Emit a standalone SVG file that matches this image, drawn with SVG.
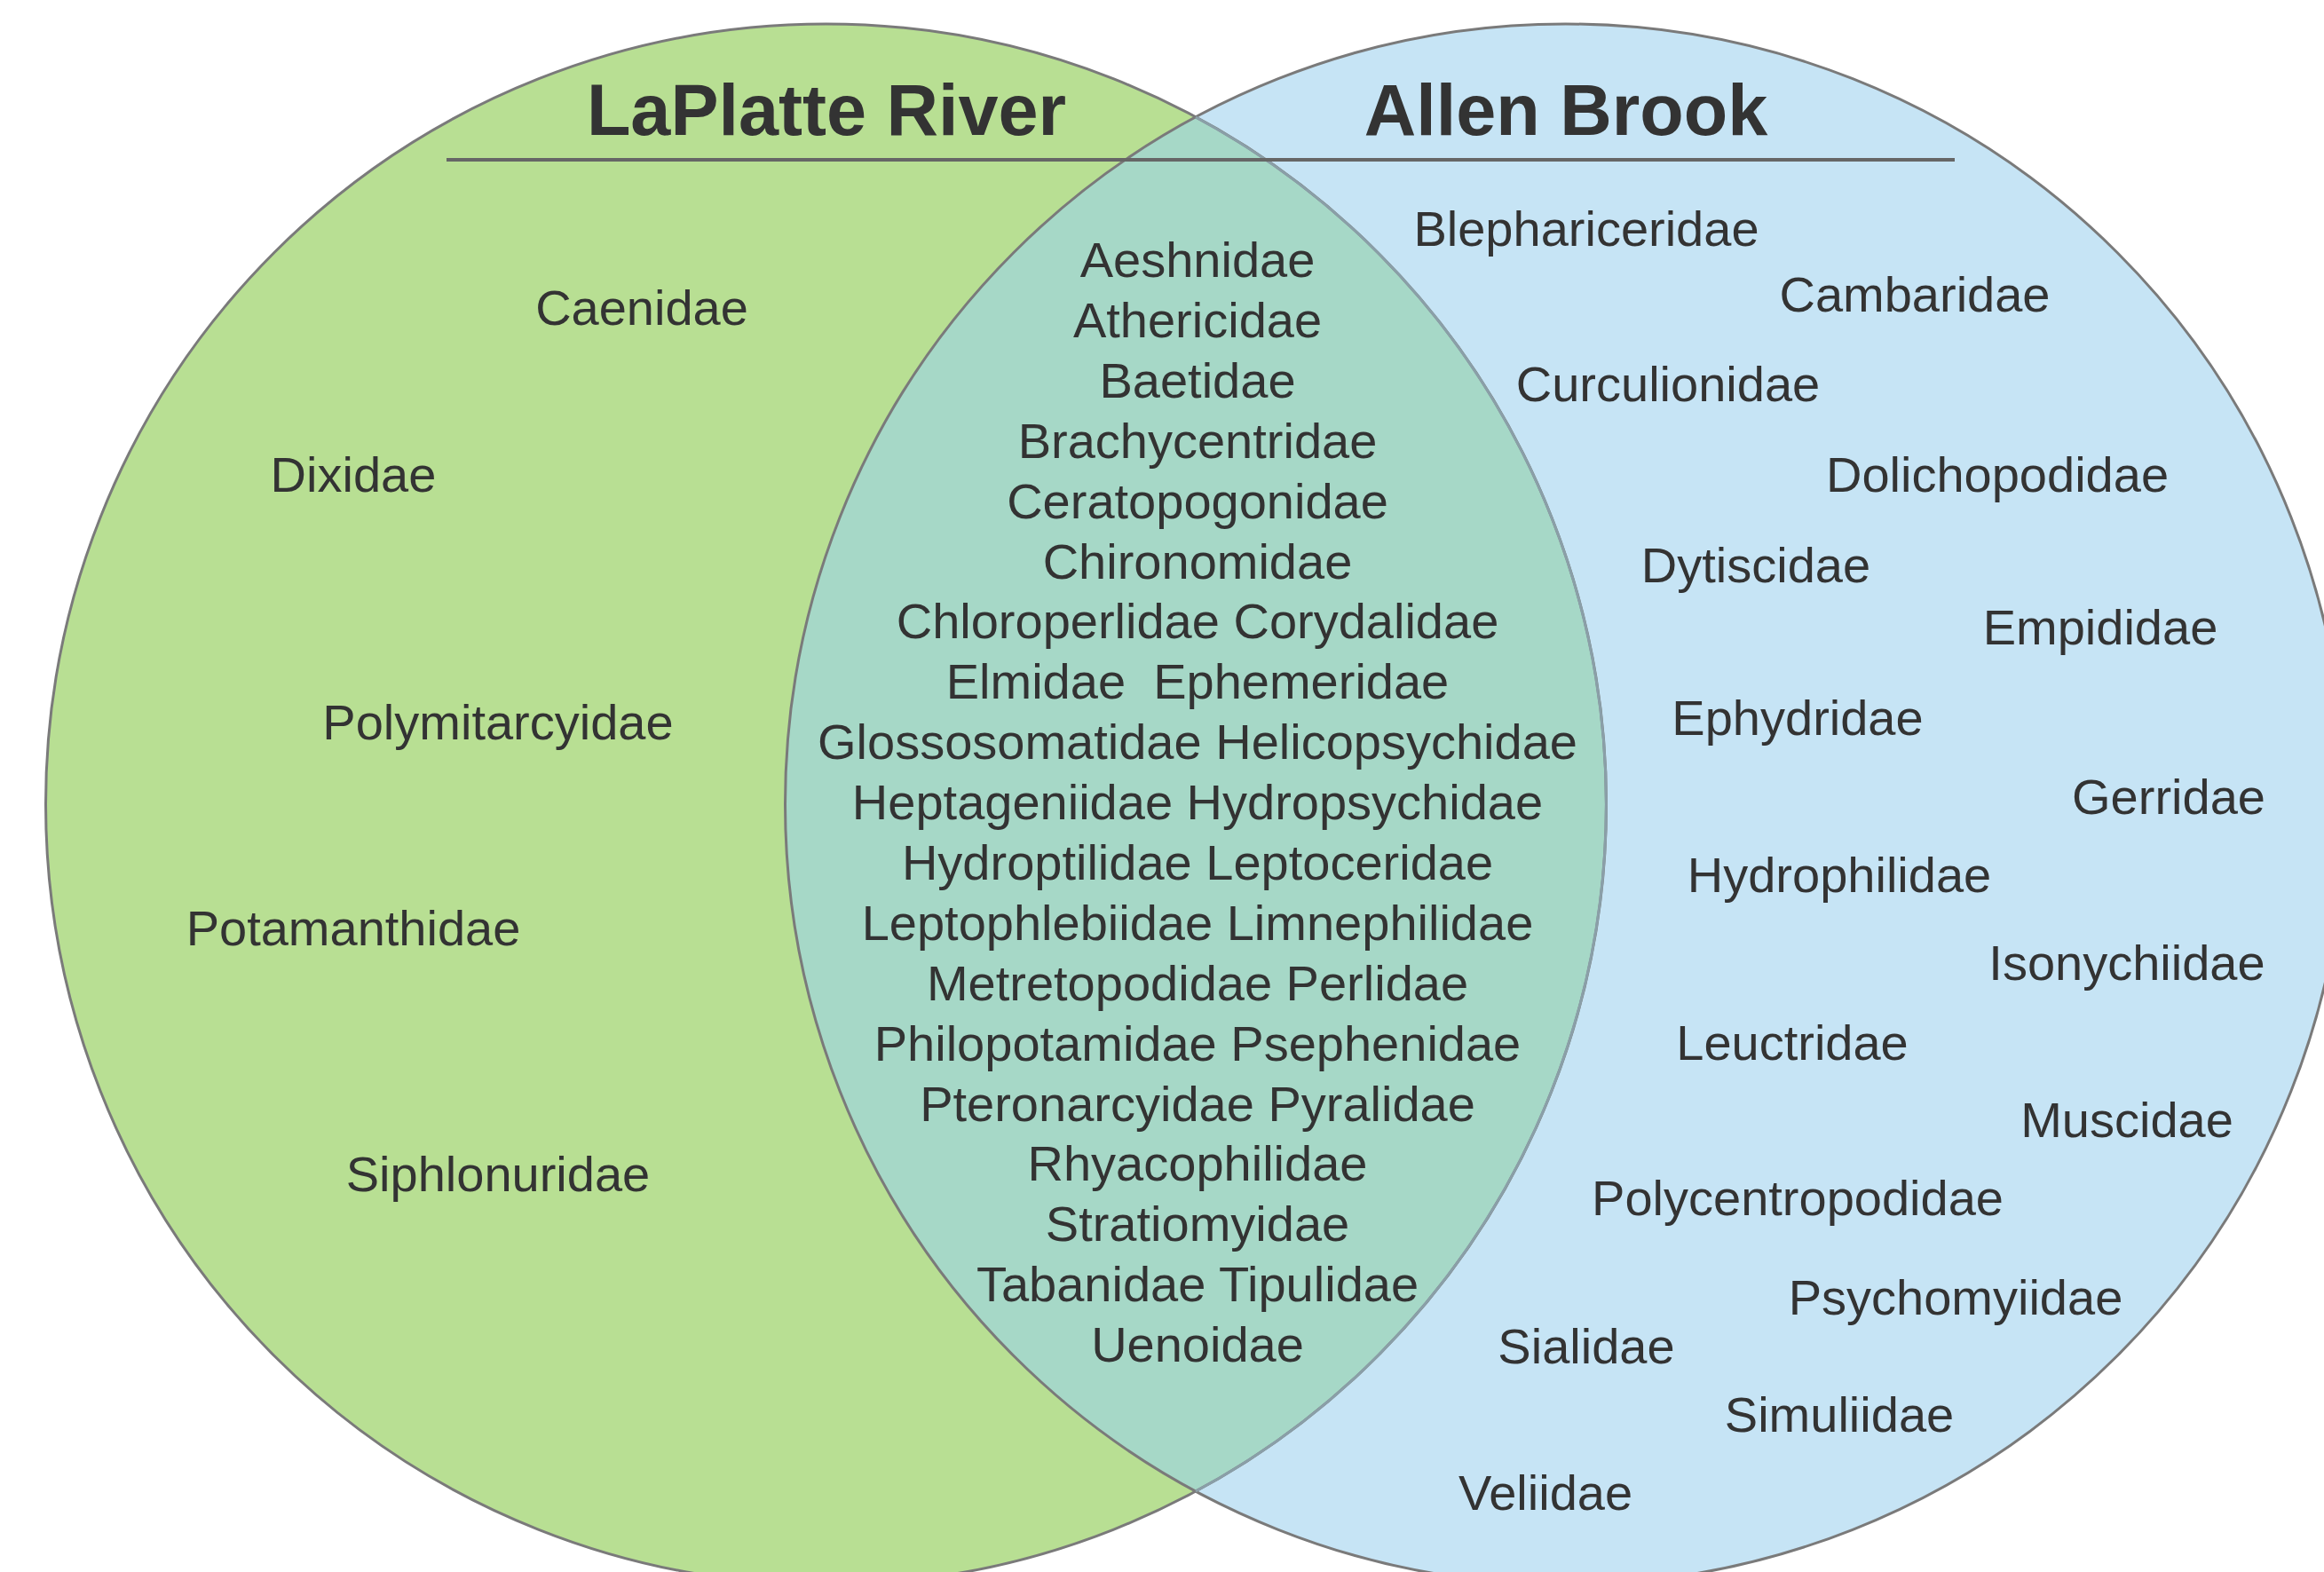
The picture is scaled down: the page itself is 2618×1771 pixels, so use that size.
<svg xmlns="http://www.w3.org/2000/svg" width="2618" height="1771" viewBox="0 0 2618 1771">
<style>
.t{font-family:"Liberation Sans",Arial,sans-serif;font-size:56px;fill:#333333;text-anchor:middle;white-space:pre}
.h{font-family:"Liberation Sans",Arial,sans-serif;font-size:81px;font-weight:bold;fill:#333333;text-anchor:middle}
.o{fill:none;stroke:#7a7a7a;stroke-width:3}
</style>
<rect width="2618" height="1771" fill="#ffffff"/>
<g id="laplatte">
<circle cx="930.5" cy="906" r="879" fill="#b8df93"/>
</g>
<g id="allen">
<circle cx="1763.5" cy="906" r="879" fill="#c6e4f5"/>
</g>
<g id="overlap">
<path d="M1347 132 A879 879 0 0 1 1347 1680 A879 879 0 0 1 1347 132 Z" fill="#a6d8c7"/>
</g>
<g id="outlines">
<circle class="o" cx="930.5" cy="906" r="879"/>
<circle class="o" cx="1763.5" cy="906" r="879"/>
<path d="M1347 132 A879 879 0 0 1 1347 1680" fill="none" stroke="#8a9fa8" stroke-width="3"/>
</g>
<g id="titles">
<text class="h" x="931" y="152">LaPlatte River</text>
<text class="h" x="1764" y="152">Allen Brook</text>
<line x1="503" y1="180" x2="2202" y2="180" stroke="#666666" stroke-width="4"/>
</g>
<g id="left-only">
<text class="t" x="723" y="366">Caenidae</text>
<text class="t" x="398" y="554">Dixidae</text>
<text class="t" x="561" y="833">Polymitarcyidae</text>
<text class="t" x="398" y="1065">Potamanthidae</text>
<text class="t" x="561" y="1342">Siphlonuridae</text>
</g>
<g id="both">
<text class="t" x="1349" y="312">Aeshnidae</text>
<text class="t" x="1349" y="380">Athericidae</text>
<text class="t" x="1349" y="448">Baetidae</text>
<text class="t" x="1349" y="516">Brachycentridae</text>
<text class="t" x="1349" y="584">Ceratopogonidae</text>
<text class="t" x="1349" y="652">Chironomidae</text>
<text class="t" x="1349" y="719">Chloroperlidae Corydalidae</text>
<text class="t" x="1349" y="787" xml:space="preserve">Elmidae  Ephemeridae</text>
<text class="t" x="1349" y="855">Glossosomatidae Helicopsychidae</text>
<text class="t" x="1349" y="923">Heptageniidae Hydropsychidae</text>
<text class="t" x="1349" y="991">Hydroptilidae Leptoceridae</text>
<text class="t" x="1349" y="1059">Leptophlebiidae Limnephilidae</text>
<text class="t" x="1349" y="1127">Metretopodidae Perlidae</text>
<text class="t" x="1349" y="1195">Philopotamidae Psephenidae</text>
<text class="t" x="1349" y="1263">Pteronarcyidae Pyralidae</text>
<text class="t" x="1349" y="1330">Rhyacophilidae</text>
<text class="t" x="1349" y="1398">Stratiomyidae</text>
<text class="t" x="1349" y="1466">Tabanidae Tipulidae</text>
<text class="t" x="1349" y="1534">Uenoidae</text>
</g>
<g id="right-only">
<text class="t" x="1787" y="277">Blephariceridae</text>
<text class="t" x="2157" y="351">Cambaridae</text>
<text class="t" x="1879" y="452">Curculionidae</text>
<text class="t" x="2250" y="554">Dolichopodidae</text>
<text class="t" x="1978" y="656">Dytiscidae</text>
<text class="t" x="2366" y="726">Empididae</text>
<text class="t" x="2025" y="828">Ephydridae</text>
<text class="t" x="2443" y="917">Gerridae</text>
<text class="t" x="2072" y="1005">Hydrophilidae</text>
<text class="t" x="2396" y="1104">Isonychiidae</text>
<text class="t" x="2019" y="1194">Leuctridae</text>
<text class="t" x="2396" y="1281">Muscidae</text>
<text class="t" x="2025" y="1369">Polycentropodidae</text>
<text class="t" x="2203" y="1481">Psychomyiidae</text>
<text class="t" x="1787" y="1536">Sialidae</text>
<text class="t" x="2072" y="1613">Simuliidae</text>
<text class="t" x="1741" y="1701">Veliidae</text>
</g>
</svg>
